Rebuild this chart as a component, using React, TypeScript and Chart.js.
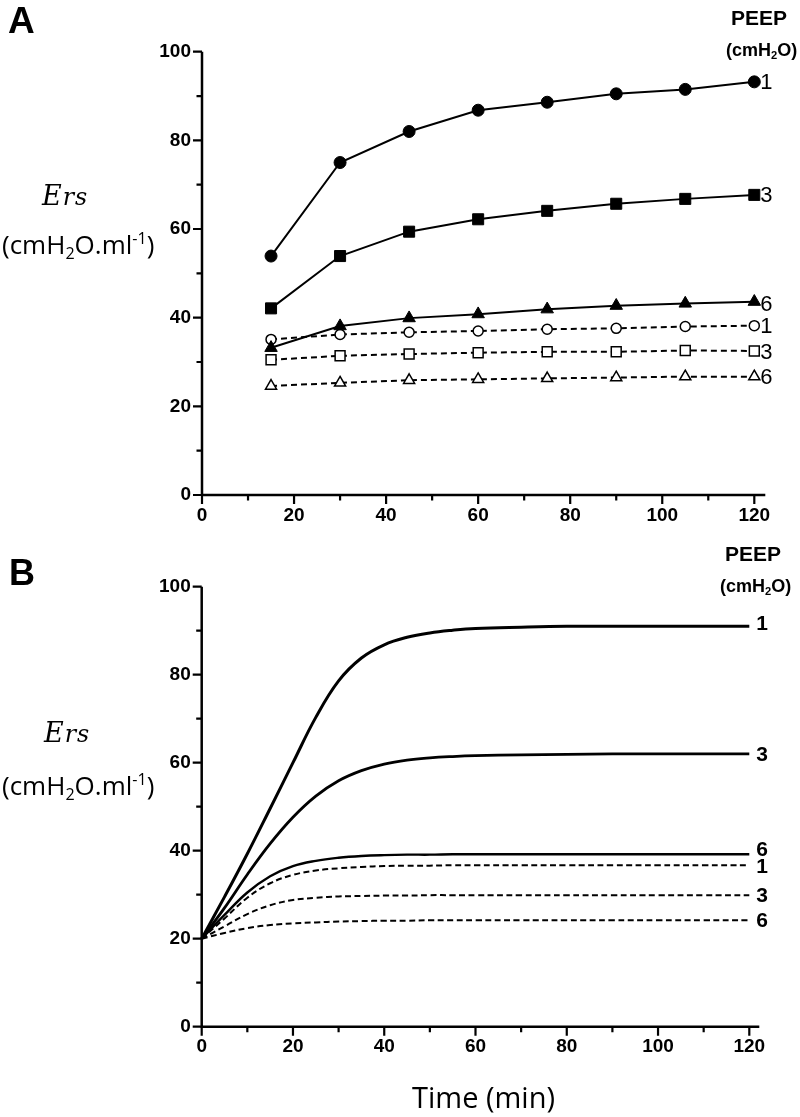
import React, { useEffect, useRef } from "react";
import { Chart, registerables } from "chart.js";

Chart.register(...registerables);

// ---------- Panel A data (measured) ----------
const timeA = [15, 30, 45, 60, 75, 90, 105, 120];
const peep1Measured = [53.9, 75.0, 82.0, 86.8, 88.6, 90.5, 91.5, 93.2];
const peep3Measured = [42.1, 53.9, 59.4, 62.2, 64.1, 65.7, 66.8, 67.7];
const peep6Measured = [33.2, 38.1, 39.9, 40.8, 41.9, 42.7, 43.2, 43.6];
const peep1Control = [35.1, 36.2, 36.7, 37.0, 37.4, 37.6, 38.0, 38.2];
const peep3Control = [30.5, 31.4, 31.8, 32.1, 32.3, 32.3, 32.6, 32.5];
const peep6Control = [24.6, 25.3, 25.9, 26.1, 26.3, 26.5, 26.7, 26.7];

// ---------- Panel B data (model) ----------
const timeB = [0, 5, 10, 15, 20, 25, 30, 35, 40, 45, 50, 55, 60, 70, 80, 90, 100, 110, 120];
const peep1Model = [20, 29.5, 39.3, 49.6, 60, 70.3, 78.6, 83.8, 86.8, 88.5, 89.5, 90.1, 90.5, 90.8, 91, 91, 91, 91, 91];
const peep3Model = [20, 27, 34.6, 41.6, 47.6, 52.4, 55.9, 58.2, 59.7, 60.6, 61.1, 61.4, 61.6, 61.8, 61.9, 62, 62, 62, 62];
const peep6Model = [20, 25.4, 30.5, 34.2, 36.5, 37.7, 38.4, 38.8, 39, 39.1, 39.1, 39.2, 39.2, 39.2, 39.2, 39.2, 39.2, 39.2, 39.2];
const peep1ModelCtl = [20, 24.6, 29.3, 32.6, 34.5, 35.5, 36, 36.3, 36.5, 36.6, 36.6, 36.7, 36.7, 36.7, 36.7, 36.7, 36.7, 36.7, 36.7];
const peep3ModelCtl = [20, 22.8, 25.6, 27.6, 28.8, 29.3, 29.6, 29.7, 29.8, 29.8, 29.9, 29.9, 29.9, 29.9, 29.9, 29.9, 29.9, 29.9, 29.9];
const peep6ModelCtl = [20, 21.3, 22.4, 23.1, 23.5, 23.7, 23.9, 24, 24.1, 24.1, 24.2, 24.2, 24.2, 24.2, 24.2, 24.2, 24.2, 24.2, 24.2];

// ---------- Axis ticks ----------
const xTickValues = [0, 20, 40, 60, 80, 100, 120];
const xMinorTicks = [10, 30, 50, 70, 90, 110];
const yTickValues = [0, 20, 40, 60, 80, 100];
const yMinorTicks = [10, 30, 50, 70, 90];
const seriesLabels = ["1", "3", "6", "1", "3", "6"];

const SANS = "'Liberation Sans', Arial, sans-serif";
const OPEN = "'Open Sans', sans-serif";
const SERIF = "'DejaVu Serif', serif";

const pairs = (xs: number[], ys: number[]) => xs.map((x, i) => ({ x, y: ys[i] }));

const sciAxes = {
  id: "sciAxes",
  afterDatasetsDraw(chart: any, _a: any, opts: any) {
    const { ctx } = chart;
    const xs = chart.scales.x;
    const ys = chart.scales.y;
    const ox = xs.getPixelForValue(xs.min);
    const oy = ys.getPixelForValue(ys.min);
    const top = ys.getPixelForValue(ys.max);
    const right = xs.getPixelForValue(xs.max) + opts.extend;
    ctx.save();
    ctx.strokeStyle = "#000";
    ctx.lineCap = "butt";
    ctx.lineWidth = opts.axisWidth;
    ctx.beginPath();
    ctx.moveTo(ox, top);
    ctx.lineTo(ox, oy + 1);
    ctx.moveTo(ox - 1, oy);
    ctx.lineTo(right, oy);
    ctx.stroke();
    ctx.lineWidth = opts.tickWidth;
    ctx.beginPath();
    const yt = (vals: number[], len: number) => {
      for (const v of vals) {
        const p = ys.getPixelForValue(v);
        ctx.moveTo(ox, p);
        ctx.lineTo(ox - len, p);
      }
    };
    const xt = (vals: number[], len: number) => {
      for (const v of vals) {
        const p = xs.getPixelForValue(v);
        ctx.moveTo(p, oy);
        ctx.lineTo(p, oy + len);
      }
    };
    yt(yTickValues, opts.major);
    yt(yMinorTicks, opts.minor);
    xt(xTickValues, opts.major);
    xt(xMinorTicks, opts.minor);
    ctx.stroke();
    ctx.restore();
  },
};

const endLabels = {
  id: "endLabels",
  afterDatasetsDraw(chart: any, _a: any, opts: any) {
    const { ctx } = chart;
    ctx.save();
    ctx.font = opts.font;
    ctx.fillStyle = "#000";
    ctx.textAlign = "left";
    ctx.textBaseline = "middle";
    chart.data.datasets.forEach((ds: any) => {
      if (!ds.endLabel) return;
      const last = ds.data[ds.data.length - 1];
      const px = chart.scales.x.getPixelForValue(last.x);
      const py = chart.scales.y.getPixelForValue(last.y);
      ctx.fillText(ds.endLabel, px + opts.dx, py + (ds.labelDy || 0));
    });
    ctx.restore();
  },
};

function scaleOpts(max: number, yWidth: number, xHeight: number, isX: boolean) {
  const vals = isX ? xTickValues : yTickValues;
  return {
    type: "linear" as const,
    min: 0,
    max,
    afterBuildTicks: (s: any) => {
      s.ticks = vals.map((v) => ({ value: v }));
    },
    afterFit: (s: any) => {
      if (isX) s.height = xHeight;
      else s.width = yWidth;
    },
    ticks: {
      autoSkip: false,
      maxRotation: 0,
      color: "#000",
      padding: isX ? 9 : 11,
      font: { family: SANS, size: 19, weight: "bold" as const },
    },
    grid: { display: false, drawTicks: false },
    border: { display: false },
  };
}

function makePanelA(canvas: HTMLCanvasElement) {
  const solid = (data: number[], style: string, r: number, label: string, dy = 0) => ({
    data: pairs(timeA, data),
    borderColor: "#000",
    backgroundColor: "#000",
    borderWidth: 2,
    pointStyle: style,
    pointRadius: r,
    pointBackgroundColor: "#000",
    pointBorderColor: "#000",
    pointBorderWidth: 1,
    clip: false,
    endLabel: label,
    labelDy: dy,
  });
  const open = (data: number[], style: string, r: number, label: string, dy = 0) => ({
    data: pairs(timeA, data),
    borderColor: "#000",
    backgroundColor: "#fff",
    borderWidth: 2,
    borderDash: [6, 4],
    pointStyle: style,
    pointRadius: r,
    pointBackgroundColor: "#fff",
    pointBorderColor: "#000",
    pointBorderWidth: 1.5,
    clip: false,
    endLabel: label,
    labelDy: dy,
  });
  return new Chart(canvas, {
    type: "line",
    data: {
      datasets: [
        solid(peep1Measured, "circle", 6, seriesLabels[0], 1),
        solid(peep3Measured, "rect", 7.8, seriesLabels[1], 1),
        solid(peep6Measured, "triangle", 7.2, seriesLabels[2], 3),
        open(peep1Control, "circle", 5, seriesLabels[3], 1),
        open(peep3Control, "rect", 7, seriesLabels[4], 2),
        open(peep6Control, "triangle", 6.4, seriesLabels[5], 1),
      ] as any,
    },
    options: {
      responsive: false,
      animation: false,
      layout: { padding: { left: 0, top: 51.7, right: 45.7, bottom: 0 } },
      plugins: {
        legend: { display: false },
        tooltip: { enabled: false },
        sciAxes: { extend: 11, axisWidth: 2.5, tickWidth: 2.2, major: 9, minor: 5.5 },
        endLabels: { font: `22px ${SANS}`, dx: 6 },
      } as any,
      scales: {
        x: scaleOpts(120, 202, 45, true),
        y: scaleOpts(100, 202, 45, false),
      },
    },
    plugins: [sciAxes, endLabels],
  });
}

function makePanelB(canvas: HTMLCanvasElement) {
  const line = (data: number[], width: number, dashed: boolean, label: string, dy = 0) => ({
    data: pairs(timeB, data),
    borderColor: "#000",
    borderWidth: width,
    borderDash: dashed ? [6, 3.5] : [],
    pointRadius: 0,
    tension: 0.4,
    fill: false,
    clip: false,
    endLabel: label,
    labelDy: dy,
  });
  return new Chart(canvas, {
    type: "line",
    data: {
      datasets: [
        line(peep1Model, 3, false, seriesLabels[0], -2),
        line(peep3Model, 2.8, false, seriesLabels[1], 1),
        line(peep6Model, 2.4, false, seriesLabels[2], -4),
        line(peep1ModelCtl, 2, true, seriesLabels[3], 2),
        line(peep3ModelCtl, 2, true, seriesLabels[4], 1),
        line(peep6ModelCtl, 2, true, seriesLabels[5], 1),
      ] as any,
    },
    options: {
      responsive: false,
      animation: false,
      layout: { padding: { left: 0, top: 46.7, right: 50.7, bottom: 0 } },
      plugins: {
        legend: { display: false },
        tooltip: { enabled: false },
        sciAxes: { extend: 10, axisWidth: 2.5, tickWidth: 2.2, major: 9, minor: 5.5 },
        endLabels: { font: `bold 21px ${SANS}`, dx: 7 },
      } as any,
      scales: {
        x: scaleOpts(120, 201.7, 90.3, true),
        y: scaleOpts(100, 201.7, 90.3, false),
      },
    },
    plugins: [sciAxes, endLabels],
  });
}

// text positioned by its baseline (line-height = font-size)
function T(props: {
  x: number;
  base: number;
  size: number;
  family: string;
  k: number;
  weight?: string;
  italic?: boolean;
  spacing?: number;
  children: React.ReactNode;
}) {
  const { x, base, size, family, k, weight, italic, spacing, children } = props;
  return (
    <div
      style={{
        position: "absolute",
        left: x,
        top: base - k * size,
        fontSize: size,
        lineHeight: `${size}px`,
        fontFamily: family,
        fontWeight: (weight as any) || "normal",
        fontStyle: italic ? "italic" : "normal",
        letterSpacing: spacing ? `${spacing}px` : "normal",
        whiteSpace: "nowrap",
        color: "#000",
      }}
    >
      {children}
    </div>
  );
}

const kSans = 0.8465;
const kOpen = 0.888;
const kSerif = 0.846;

const subStyle: React.CSSProperties = { fontSize: "0.62em", verticalAlign: "-0.3em", lineHeight: 0 };
const supStyle: React.CSSProperties = { fontSize: "0.62em", verticalAlign: "0.6em", lineHeight: 0 };

function Units({ base }: { base: number }) {
  return (
    <T x={2} base={base} size={26} family={OPEN} k={kOpen}>
      (cmH<span style={subStyle}>2</span>O.ml<span style={supStyle}>-1</span>)
    </T>
  );
}

function Ers({ x, base }: { x: number; base: number }) {
  return (
    <T x={x} base={base} size={27} family={SERIF} k={kSerif} italic spacing={1}>
      E<span style={{ fontSize: "0.88em" }}>rs</span>
    </T>
  );
}

function Peep({ x, base }: { x: number; base: number }) {
  return (
    <>
      <T x={x} base={base} size={21} family={SANS} k={kSans} weight="bold">
        PEEP
      </T>
      <T x={x - 5} base={base + 31} size={18} family={SANS} k={kSans} weight="bold">
        (cmH<span style={subStyle}>2</span>O)
      </T>
    </>
  );
}

export default function App() {
  const refA = useRef<HTMLCanvasElement>(null);
  const refB = useRef<HTMLCanvasElement>(null);
  useEffect(() => {
    const a = makePanelA(refA.current!);
    const b = makePanelB(refB.current!);
    return () => {
      a.destroy();
      b.destroy();
    };
  }, []);
  return (
    <div style={{ position: "absolute", left: 0, top: 0, width: 800, height: 1117, background: "#fff", overflow: "hidden" }}>
      <canvas ref={refA} width={800} height={540} style={{ position: "absolute", left: 0, top: 0, display: "block" }} />
      <canvas ref={refB} width={800} height={577} style={{ position: "absolute", left: 0, top: 540, display: "block" }} />
      <T x={8} base={33} size={37} family={SANS} k={kSans} weight="bold">A</T>
      <T x={9} base={585} size={36} family={SANS} k={kSans} weight="bold">B</T>
      <Peep x={731} base={25} />
      <Peep x={725} base={561} />
      <Ers x={42} base={205} />
      <Ers x={44} base={742} />
      <Units base={254} />
      <Units base={795} />
      <T x={412} base={1108} size={29} family={OPEN} k={kOpen}>Time (min)</T>
    </div>
  );
}
